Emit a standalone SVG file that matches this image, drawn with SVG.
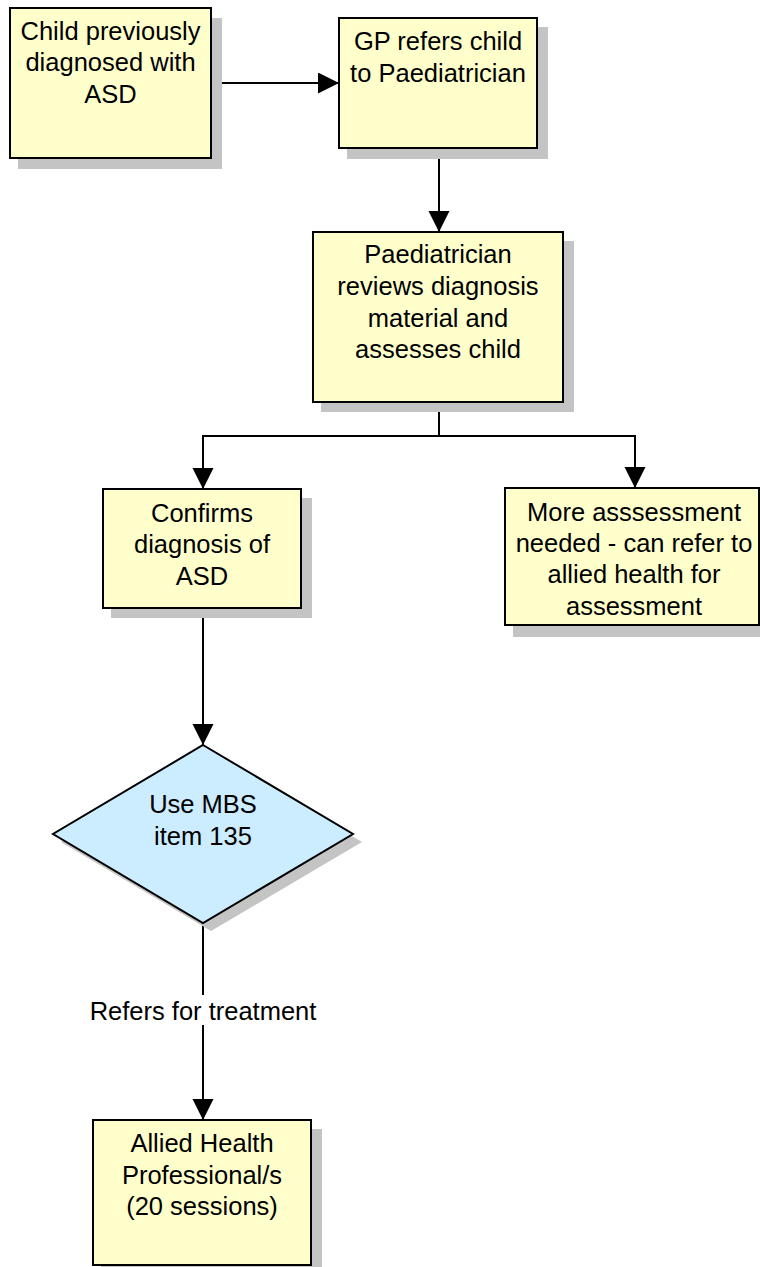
<svg xmlns="http://www.w3.org/2000/svg" width="760" height="1267" viewBox="0 0 760 1267">
<style>
.box{fill:#FFFFCC;stroke:#000;stroke-width:2}
.dia{fill:#CCECFF;stroke:#000;stroke-width:2}
.sh{fill:#C4C4C4}
.t{font-family:"Liberation Sans",Arial,sans-serif;font-size:25.5px;fill:#000;text-anchor:middle}
.c{fill:none;stroke:#000;stroke-width:2}
</style>
<defs>
<marker id="ah" markerUnits="userSpaceOnUse" markerWidth="22" markerHeight="22" refX="21" refY="10.5" orient="auto">
<path d="M0,0 L21,10.5 L0,21 z" fill="#000"/>
</marker>
</defs>
<rect width="760" height="1267" fill="#fff"/>
<g id="connectors">
<path class="c" d="M211,83 H339" marker-end="url(#ah)"/>
<path class="c" d="M439,148 V232" marker-end="url(#ah)"/>
<path class="c" d="M439,402 V436 H203 V489" marker-end="url(#ah)"/>
<path class="c" d="M439,436 H635 V488" marker-end="url(#ah)"/>
<path class="c" d="M203,608 V745" marker-end="url(#ah)"/>
<path class="c" d="M203,923 V1120" marker-end="url(#ah)"/>
<rect x="88" y="995" width="230" height="30" fill="#fff"/>
<text class="t" x="203" y="1020">Refers for treatment</text>
</g>
<g id="n1">
<rect class="sh" x="18" y="18" width="204" height="151"/>
<rect class="box" x="10" y="8" width="201" height="150"/>
<text class="t" x="110.5" y="39.5">Child previously</text>
<text class="t" x="110.5" y="71">diagnosed with</text>
<text class="t" x="110.5" y="102.5">ASD</text>
</g>
<g id="n2">
<rect class="sh" x="347" y="27" width="201" height="132"/>
<rect class="box" x="339" y="18" width="198" height="130"/>
<text class="t" x="438" y="49.5">GP refers child</text>
<text class="t" x="438" y="81.5">to Paediatrician</text>
</g>
<g id="n3">
<rect class="sh" x="321" y="241" width="253" height="171"/>
<rect class="box" x="313" y="232" width="250" height="170"/>
<text class="t" x="438" y="263">Paediatrician</text>
<text class="t" x="438" y="295">reviews diagnosis</text>
<text class="t" x="438" y="326.5">material and</text>
<text class="t" x="438" y="358">assesses child</text>
</g>
<g id="n4">
<rect class="sh" x="111" y="498" width="201" height="120"/>
<rect class="box" x="103" y="489" width="198" height="119"/>
<text class="t" x="202" y="521.5">Confirms</text>
<text class="t" x="202" y="553.3">diagnosis of</text>
<text class="t" x="202" y="585">ASD</text>
</g>
<g id="n5">
<rect class="sh" x="513" y="497" width="257" height="140"/>
<rect class="box" x="505" y="488" width="254" height="137"/>
<text class="t" x="634" y="520.7">More asssessment</text>
<text class="t" x="634" y="551.7">needed - can refer to</text>
<text class="t" x="634" y="583">allied health for</text>
<text class="t" x="634" y="614.5">assessment</text>
</g>
<g id="n6">
<polygon class="sh" points="211,753 362,842 211,931 61,842"/>
<polygon class="dia" points="203,745 353,834 203,923 53,834"/>
<text class="t" x="203" y="813">Use MBS</text>
<text class="t" x="203" y="845">item 135</text>
</g>
<g id="n7">
<rect class="sh" x="101" y="1129" width="221" height="148"/>
<rect class="box" x="93" y="1120" width="218" height="145"/>
<text class="t" x="202" y="1152">Allied Health</text>
<text class="t" x="202" y="1184">Professional/s</text>
<text class="t" x="202" y="1215">(20 sessions)</text>
</g>
</svg>
